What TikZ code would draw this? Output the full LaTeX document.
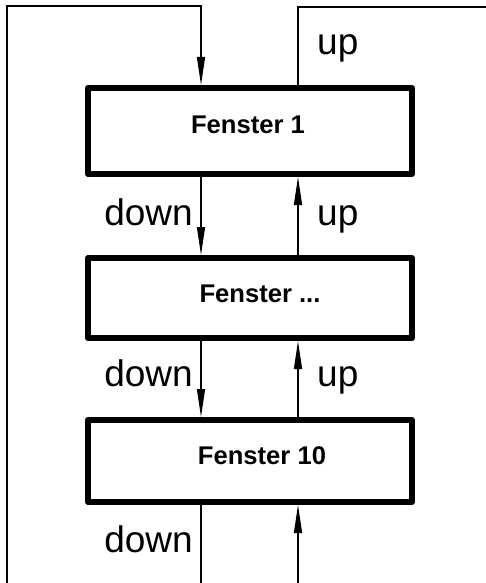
\documentclass[tikz,border=0pt]{standalone}
\usepackage{fontspec}
\setmainfont{Liberation Sans}
\usetikzlibrary{arrows.meta}
\begin{document}
\begin{tikzpicture}[x=1pt,y=-1pt,
  win/.style={draw,line width=6pt,minimum width=324pt,inner sep=0pt,line join=round},
  wintext/.style={font=\fontsize{25.6}{28}\selectfont\bfseries,inner sep=0pt,anchor=base},
  lbl/.style={font=\fontsize{37}{40}\selectfont,inner sep=0pt},
  conn/.style={line width=1.3pt},
  arr/.style={line width=1.3pt,-{Triangle[length=28pt,width=8pt]}}]
\useasboundingbox (0,0) rectangle (485,583);
% windows
\node[win,minimum height=86pt] (b1) at (250,131) {};
\node[win,minimum height=80pt] (b2) at (250,298) {};
\node[win,minimum height=82pt] (b3) at (250,461) {};
\node[wintext] (t1) at (248,133) {Fenster 1};
\node[wintext] (t2) at (260,302) {Fenster ...};
\node[wintext] (t3) at (262,464) {Fenster 10};
% helper coordinates
\coordinate (dx) at (201,0);
\coordinate (ux) at (298,0);
\coordinate (lb) at (7,584);
\coordinate (lt) at (7,6);
\coordinate (tl) at (201,6);
\coordinate (tr) at (298,7);
\coordinate (re) at (486,7);
\coordinate (db) at (201,584);
\coordinate (ub) at (298,584);
% outer loop
\draw[arr] (lb) -- (lt) -- (tl) -- (b1.north -| tl);
\draw[conn] (b1.north -| tr) -- (tr) -- (re);
% between windows
\draw[arr] (b1.south -| dx) -- (b2.north -| dx);
\draw[arr] (b2.north -| ux) -- (b1.south -| ux);
\draw[arr] (b2.south -| dx) -- (b3.north -| dx);
\draw[arr] (b3.north -| ux) -- (b2.south -| ux);
% bottom
\draw[conn] (b3.south -| dx) -- (db);
\draw[arr] (ub) -- (b3.south -| ux);
% labels
\node[lbl,anchor=base west] (u0) at (317,55) {up};
\node[lbl,anchor=base east] (d1) at (193,225) {down};
\node[lbl,anchor=base west] (u1) at (317,225) {up};
\node[lbl,anchor=base east] (d2) at (193,386) {down};
\node[lbl,anchor=base west] (u2) at (317,386) {up};
\node[lbl,anchor=base east] (d3) at (193,552) {down};
\end{tikzpicture}
\end{document}
